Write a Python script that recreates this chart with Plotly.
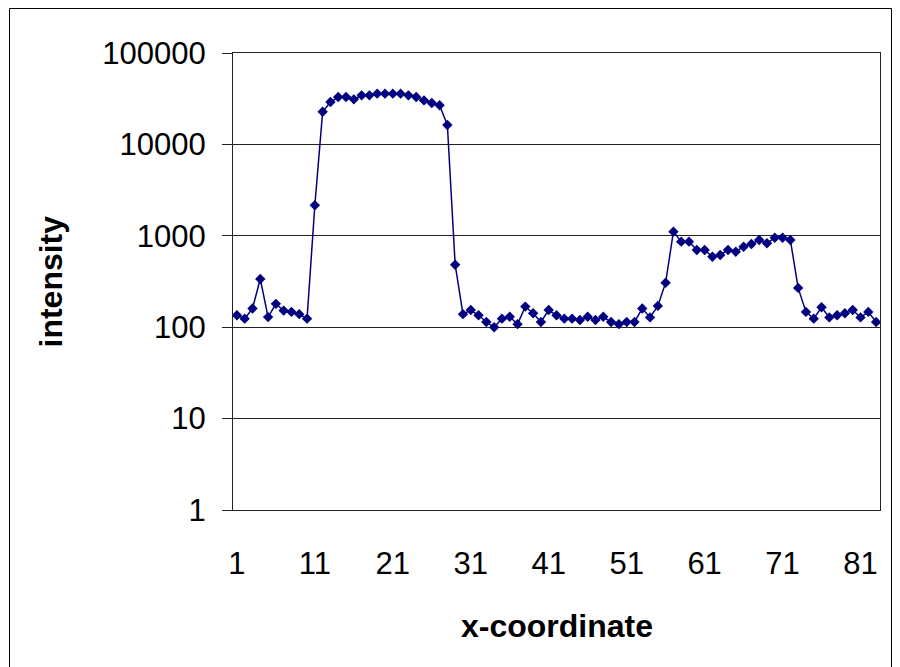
import plotly.graph_objects as go

x_coord = list(range(1, 84))
intensity = [
    135, 124, 160, 337, 129, 180, 152, 147, 139, 124,
    2158, 22800, 29100, 33000, 33000, 31100, 34400, 34400, 35900, 35900,
    35900, 35900, 34400, 33000, 30300, 28400, 26800, 16300, 483, 139,
    154, 135, 114, 100, 124, 130, 108, 168, 142, 114,
    154, 135, 124, 124, 120, 130, 120, 130, 114, 108,
    114, 114, 160, 128, 171, 307, 1110, 863, 863, 700,
    700, 591, 617, 700, 670, 760, 813, 900, 828, 953,
    953, 900, 269, 147, 124, 165, 128, 135, 142, 154,
    128, 147, 114,
]
x_ticks = [1, 11, 21, 31, 41, 51, 61, 71, 81]
y_ticks = [1, 10, 100, 1000, 10000, 100000]
y_tick_text = ["1", "10", "100", "1000", "10000", "100000"]

W, H = 900, 667
L, R, T, B = 233, 20, 53, 157
pw, ph = W - L - R, H - T - B

def px(xp):
    return (xp - L) / pw

def py(yp):
    return (H - B - yp) / ph

FONT = "Liberation Sans, Arial, sans-serif"

fig = go.Figure()
fig.add_trace(go.Scatter(
    x=x_coord, y=intensity, mode="lines+markers",
    line=dict(color="#000080", width=1.5),
    marker=dict(symbol="diamond", size=8, color="#000080"),
    showlegend=False,
))

fig.update_layout(
    width=W, height=H,
    margin=dict(l=L, r=R, t=T, b=B),
    paper_bgcolor="white", plot_bgcolor="white",
    font=dict(family=FONT, color="black", size=31),
    xaxis=dict(
        range=[0.5, 83.5], tickvals=x_ticks, showgrid=False, zeroline=False,
        showline=True, linecolor="#222", linewidth=1, mirror=True,
        ticks="", ticklabelstandoff=26,
        tickfont=dict(family=FONT, size=31, color="black"),
    ),
    yaxis=dict(
        type="log", range=[0, 5], tickvals=y_ticks, ticktext=y_tick_text,
        showgrid=True, gridcolor="#222", gridwidth=1, zeroline=False,
        showline=True, linecolor="#222", linewidth=1, mirror=True,
        ticks="outside", ticklen=10, tickcolor="#222",
        ticklabelstandoff=10,
        tickfont=dict(family=FONT, size=31, color="black"),
    ),
    annotations=[
        dict(text="<b>intensity</b>", xref="paper", yref="paper",
             x=px(50), y=0.5, textangle=-90, showarrow=False,
             xanchor="center", yanchor="middle",
             font=dict(family=FONT, size=32, color="black")),
        dict(text="<b>x-coordinate</b>", xref="paper", yref="paper",
             x=px(557), y=py(626), showarrow=False,
             xanchor="center", yanchor="middle",
             font=dict(family=FONT, size=32, color="black")),
    ],
    shapes=[
        dict(type="rect", xref="paper", yref="paper",
             x0=px(9.5), x1=px(891.5), y0=py(675), y1=py(8.5),
             line=dict(color="black", width=1), fillcolor="rgba(0,0,0,0)",
             layer="below"),
    ],
)

fig.write_html("out.html")
